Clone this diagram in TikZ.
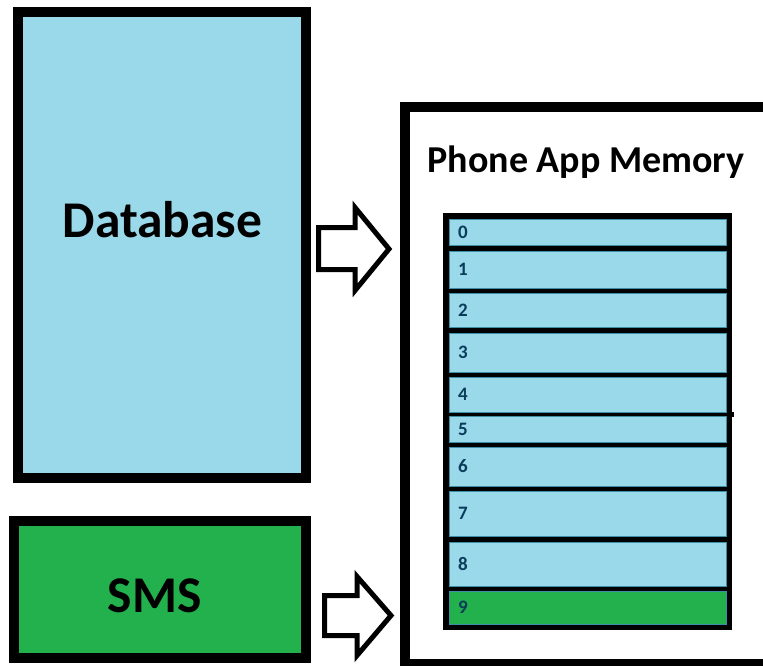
\documentclass[tikz,border=0pt]{standalone}
\usepackage{fontspec}
\setmainfont{Carlito}

\definecolor{dbblue}{HTML}{99D9EA}
\definecolor{smsgreen}{HTML}{22B14C}
\definecolor{celledge}{HTML}{3E8FA5}
\definecolor{digitblue}{HTML}{0B3B5B}

\tikzset{
  bigbox/.style={line width=10pt},
  cell/.style={rectangle, draw=celledge, line width=0.8pt, fill=dbblue,
    text width=259pt, inner xsep=9pt, inner ysep=0pt, align=left,
    text=digitblue, font=\fontsize{19}{20}\selectfont\bfseries},
  blockarrow/.style={draw, line width=5pt, fill=white, line join=miter},
  boxlabel/.style={anchor=base, font=\fontsize{51.5}{60}\selectfont\bfseries},
}

\begin{document}
\begin{tikzpicture}[x=1pt, y=-1pt]

	% page area
	\clip (0,0) rectangle (763,666);
	\fill[white] (0,0) rectangle (763,666);

	% Database box
	\draw[bigbox, fill=dbblue] (18,12) rectangle (306,478);
	\node[boxlabel] (dblabel) at (162.5,237) {Database};

	% SMS box
	\draw[bigbox, fill=smsgreen] (14,521) rectangle (306,658);
	\node[boxlabel] (smslabel) at (154.5,612) {SMS};

	% Phone memory frame
	\draw[bigbox] (404.5,107.5) rectangle (790,664);
	\node[anchor=base, font=\fontsize{38}{44}\selectfont\bfseries] (memtitle) at (586,172) {Phone App Memory};

	% memory slots
	\fill (443,213) rectangle (732,630);
	\draw[line width=5pt] (443,414) -- (734,414);
	\node[cell, minimum height=26pt] (slot0) at (587.5,232) {0};
	\node[cell, minimum height=37pt] (slot1) at (587.5,269.5) {1};
	\node[cell, minimum height=34pt] (slot2) at (587.5,310) {2};
	\node[cell, minimum height=39pt] (slot3) at (587.5,352.5) {3};
	\node[cell, minimum height=35pt] (slot4) at (587.5,394.5) {4};
	\node[cell, minimum height=26pt] (slot5) at (587.5,429) {5};
	\node[cell, minimum height=39pt] (slot6) at (587.5,466.5) {6};
	\node[cell, minimum height=45pt] (slot7) at (587.5,513.5) {7};
	\node[cell, minimum height=44pt] (slot8) at (587.5,564) {8};
	\node[cell, minimum height=33pt, fill=smsgreen] (slot9) at (587.5,607.5) {9};

	% block arrows into memory
	\draw[blockarrow] (318.5,227.5) -- (355,227.5) -- (355,207.5) -- (389,249)
	  -- (355,290.5) -- (355,269.5) -- (318.5,269.5) -- cycle;
	\draw[blockarrow] (324.5,595.5) -- (357,595.5) -- (357,576.5) -- (391,615.5)
	  -- (357,655.5) -- (357,635.5) -- (324.5,635.5) -- cycle;

\end{tikzpicture}
\end{document}
